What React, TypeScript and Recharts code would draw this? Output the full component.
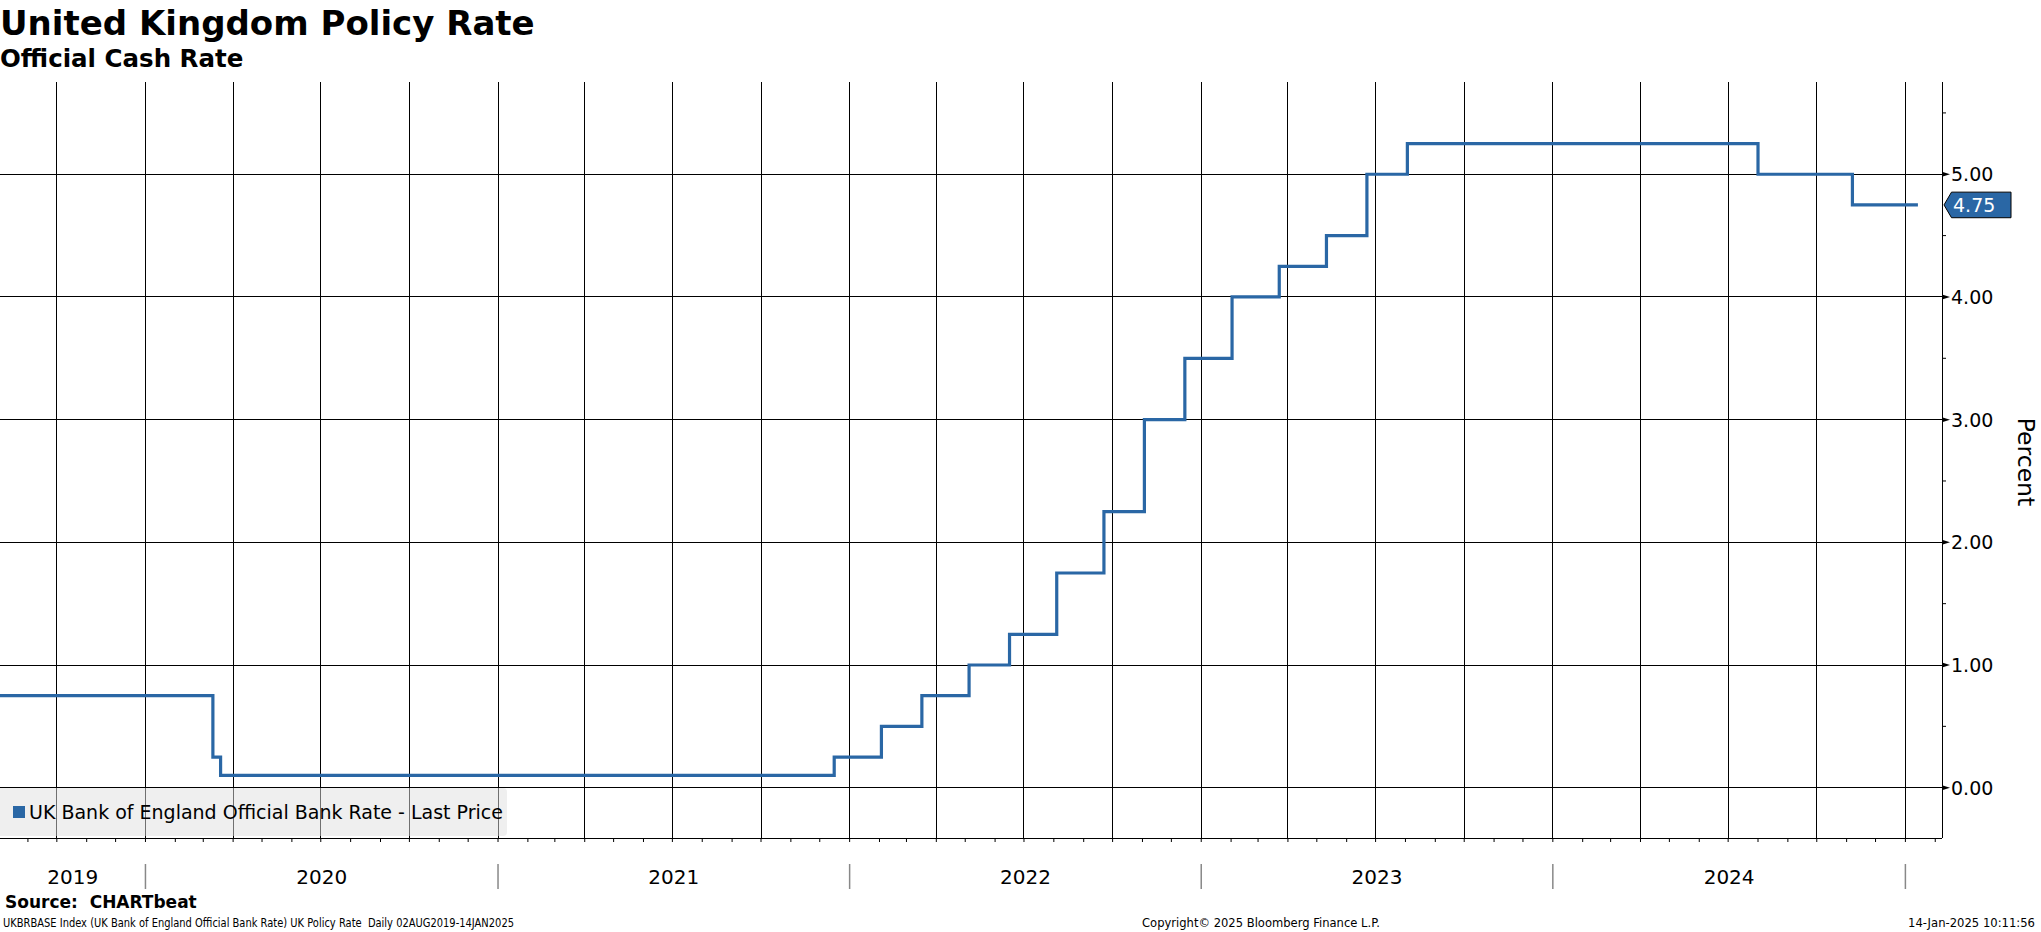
import { CartesianGrid, Line, LineChart, ReferenceDot, XAxis, YAxis } from "recharts";

// policy rate changes (date of change -> new level), last row is the final observation
const changeDates = [
  "2019-08-02", "2020-03-11", "2020-03-19", "2021-12-16", "2022-02-03",
  "2022-03-17", "2022-05-05", "2022-06-16", "2022-08-04", "2022-09-22",
  "2022-11-03", "2022-12-15", "2023-02-02", "2023-03-23", "2023-05-11",
  "2023-06-22", "2023-08-03", "2024-08-01", "2024-11-07", "2025-01-14",
];
const rates = [
  0.75, 0.25, 0.1, 0.25, 0.5,
  0.75, 1.0, 1.25, 1.75, 2.25,
  3.0, 3.5, 4.0, 4.25, 4.5,
  5.0, 5.25, 5.0, 4.75, 4.75,
];

const yearLabels = ["2019", "2020", "2021", "2022", "2023", "2024"];
const yTicks = [0, 0.5, 1, 1.5, 2, 2.5, 3, 3.5, 4, 4.5, 5, 5.5];
const yGrid = [0, 1, 2, 3, 4, 5];

const SERIES_NAME = "UK Bank of England Official Bank Rate - Last Price";
const LINE_COLOR = "#2a67a5";
const FONT = "'DejaVu Sans', Verdana, sans-serif";

const W = 2041;
const H = 932;
const PLOT_TOP = 82;
const PLOT_RIGHT = 1942;
const PLOT_BOTTOM = 838;
const Y_MIN = -0.41;

const utc = (s: string) => Date.parse(s + "T00:00:00Z");
const X_MIN = utc("2019-08-03");
const X_MAX = utc("2025-02-08");

const data = changeDates.map((d, i) => ({ t: utc(d), rate: rates[i] }));

// month starts inside the window, quarter starts for the grid
const monthTicks: number[] = [];
for (let y = 2019; y <= 2025; y++) {
  for (let m = 0; m < 12; m++) {
    const t = Date.UTC(y, m, 1);
    if (t > X_MIN && t < X_MAX) monthTicks.push(t);
  }
}
const quarterTicks = monthTicks.filter((t) => new Date(t).getUTCMonth() % 3 === 0);

const yearBounds = [X_MIN, ...yearLabels.slice(1).map((y) => utc(`${y}-01-01`)), utc("2025-01-01")];
const yearMids = yearLabels.map((_, i) => (yearBounds[i] + yearBounds[i + 1]) / 2);

const MonthTick = (props: any) => {
  const { x, payload } = props;
  const jan = new Date(payload.value).getUTCMonth() === 0;
  return (
    <g>
      <line x1={x} x2={x} y1={PLOT_BOTTOM} y2={PLOT_BOTTOM + 4} stroke="#000" />
      {jan && <line x1={x} x2={x} y1={864} y2={889} stroke="#888" strokeWidth={1.5} />}
    </g>
  );
};

const YearLabel = ({ cx, label }: any) => (
  <text x={cx} y={884} textAnchor="middle" fontFamily={FONT} fontSize={20} fill="#000">
    {label}
  </text>
);

const RateTick = (props: any) => {
  const { y, payload } = props;
  const v = payload.value as number;
  if (v % 1 !== 0) {
    return <line x1={PLOT_RIGHT} x2={PLOT_RIGHT + 4} y1={y} y2={y} stroke="#000" />;
  }
  return (
    <g>
      <polygon
        points={`${PLOT_RIGHT},${y - 2.5} ${PLOT_RIGHT + 8},${y} ${PLOT_RIGHT},${y + 2.5}`}
        fill="#000"
      />
      <text x={PLOT_RIGHT + 9} y={y + 7} fontFamily={FONT} fontSize={19} fill="#000">
        {v.toFixed(2)}
      </text>
    </g>
  );
};

const LastBadge = (props: any) => {
  const { cy } = props;
  const x0 = PLOT_RIGHT + 2;
  return (
    <g>
      <polygon
        points={`${x0},${cy} ${x0 + 7.5},${cy - 12.8} ${x0 + 67},${cy - 12.8} ${x0 + 67},${cy + 12.8} ${x0 + 7.5},${cy + 12.8}`}
        fill={LINE_COLOR}
        stroke="#000"
        strokeWidth={1}
      />
      <text x={x0 + 9} y={cy + 7} fontFamily={FONT} fontSize={19} fill="#fff">
        {rates[rates.length - 1].toFixed(2)}
      </text>
    </g>
  );
};

export default function App() {
  const last = data[data.length - 1];
  return (
    <div style={{ position: "absolute", left: 0, top: 0, width: W, height: H, background: "#fff" }}>
      <LineChart
        width={W}
        height={H}
        data={data}
        margin={{ top: PLOT_TOP, right: 0, bottom: 0, left: 0 }}
      >
        <CartesianGrid
          stroke="#000"
          strokeWidth={1}
          shapeRendering="crispEdges"
          horizontalValues={yGrid}
          verticalValues={quarterTicks}
        />
        <XAxis
          dataKey="t"
          type="number"
          domain={[X_MIN, X_MAX]}
          allowDataOverflow
          ticks={monthTicks}
          interval={0}
          tickLine={false}
          axisLine={{ stroke: "#000", shapeRendering: "crispEdges" }}
          tick={(p: any) => <MonthTick {...p} />}
          height={H - PLOT_BOTTOM}
        />
        <YAxis
          orientation="right"
          type="number"
          domain={[Y_MIN, 5.752]}
          allowDataOverflow
          ticks={yTicks}
          interval={0}
          tickLine={false}
          axisLine={{ stroke: "#000", shapeRendering: "crispEdges" }}
          tick={(p: any) => <RateTick {...p} />}
          width={W - PLOT_RIGHT}
        />
        <Line
          type="stepAfter"
          dataKey="rate"
          stroke={LINE_COLOR}
          strokeWidth={3.2}
          dot={false}
          activeDot={false}
          isAnimationActive={false}
        />
        <ReferenceDot
          x={last.t}
          y={last.rate}
          ifOverflow="visible"
          shape={(p: any) => <LastBadge {...p} />}
        />
        {yearMids.map((m, i) => (
          <ReferenceDot
            key={yearLabels[i]}
            x={m}
            y={Y_MIN}
            ifOverflow="visible"
            shape={(p: any) => <YearLabel {...p} label={yearLabels[i]} />}
          />
        ))}
      </LineChart>

      <div
        style={{
          position: "absolute",
          left: 0,
          top: 788,
          width: 507,
          height: 48,
          background: "rgba(224,224,224,0.5)",
          borderRadius: "0 4px 4px 0",
          display: "flex",
          alignItems: "center",
          fontFamily: FONT,
          fontSize: 19,
          color: "#000",
          whiteSpace: "nowrap",
        }}
      >
        <span
          style={{ display: "inline-block", width: 12, height: 12, background: LINE_COLOR, marginLeft: 13, marginRight: 4 }}
        />
        <span>{SERIES_NAME}</span>
      </div>

      <svg
        width={W}
        height={H}
        style={{ position: "absolute", left: 0, top: 0, pointerEvents: "none" }}
      >
        <text x={0} y={35} fontFamily={FONT} fontWeight="bold" fontSize={34} fill="#000">
          United Kingdom Policy Rate
        </text>
        <text x={0} y={67} fontFamily={FONT} fontWeight="bold" fontSize={24.5} fill="#000">
          Official Cash Rate
        </text>
        <text
          x={2018}
          y={462}
          transform="rotate(90 2018 462)"
          textAnchor="middle"
          fontFamily={FONT}
          fontSize={23.5}
          fill="#000"
        >
          Percent
        </text>
        <text x={5} y={908} fontFamily={FONT} fontWeight="bold" fontSize={17} fill="#000" style={{ whiteSpace: "pre" }}>
          {"Source:  CHARTbeat"}
        </text>
        <text
          x={3}
          y={926.5}
          fontFamily={FONT}
          fontSize={11.5}
          fill="#000"
          textLength={511}
          lengthAdjust="spacingAndGlyphs"
          style={{ whiteSpace: "pre" }}
        >
          {"UKBRBASE Index (UK Bank of England Official Bank Rate) UK Policy Rate  Daily 02AUG2019-14JAN2025"}
        </text>
        <text
          x={1142}
          y={926.5}
          fontFamily={FONT}
          fontSize={11.5}
          fill="#000"
          textLength={238}
          lengthAdjust="spacingAndGlyphs"
        >
          Copyright© 2025 Bloomberg Finance L.P.
        </text>
        <text
          x={1908}
          y={926.5}
          fontFamily={FONT}
          fontSize={11.5}
          fill="#000"
          textLength={127}
          lengthAdjust="spacingAndGlyphs"
        >
          14-Jan-2025 10:11:56
        </text>
      </svg>
    </div>
  );
}
